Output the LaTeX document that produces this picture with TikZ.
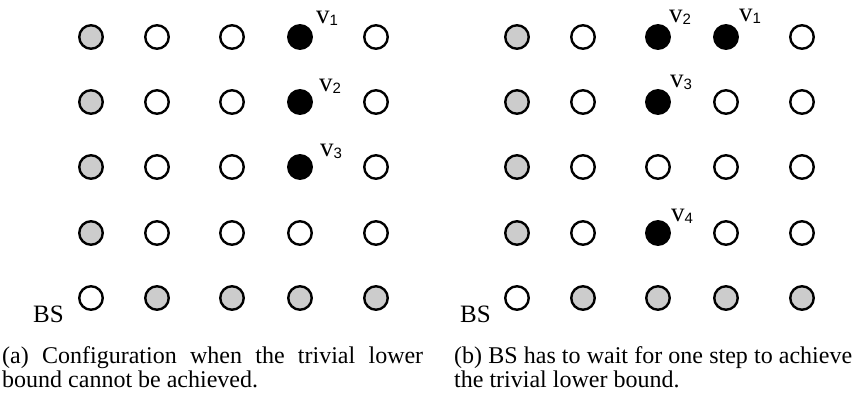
\documentclass[tikz,border=0pt]{standalone}
\usepackage{fontspec}
\setmainfont{Liberation Serif}
\newfontfamily\subfont{Liberation Sans}
\tikzset{
  site/.style={circle, draw=black, line width=2.4pt, minimum size=23.5pt, inner sep=0pt},
  wdot/.style={site, fill=white},
  gdot/.style={site, fill=black!20},
  bdot/.style={site, fill=black},
  vlab/.style={inner sep=0pt, anchor=base west, font=\fontsize{27}{27}\selectfont},
  bslab/.style={inner sep=0pt, anchor=base east, font=\fontsize{25}{25}\selectfont},
  caption/.style={inner sep=0pt, anchor=north west, align=justify, font=\fontsize{24}{24.5}\selectfont},
}
\newcommand\vsub[1]{\raisebox{-2pt}{\subfont\fontsize{15}{15}\selectfont #1}}

\begin{document}
\begin{tikzpicture}[x=1pt, y=-1pt]
  \useasboundingbox (0,0) rectangle (855,393);

  %% (a) grid
  \foreach \r/\y/\row in {1/37/{gdot,wdot,wdot,bdot,wdot},
                          2/102/{gdot,wdot,wdot,bdot,wdot},
                          3/167/{gdot,wdot,wdot,bdot,wdot},
                          4/233/{gdot,wdot,wdot,wdot,wdot},
                          5/298/{wdot,gdot,gdot,gdot,gdot}}
    \foreach \s [count=\c] in \row {
      \pgfmathsetmacro\xx{{91,157,232,300,376}[\c-1]}
      \node[\s] (a\r\c) at (\xx,\y) {};
    }

  %% (b) grid
  \begin{scope}[xshift=426pt]
  \foreach \r/\y/\row in {1/37/{gdot,wdot,bdot,bdot,wdot},
                          2/102/{gdot,wdot,bdot,wdot,wdot},
                          3/167/{gdot,wdot,wdot,wdot,wdot},
                          4/233/{gdot,wdot,bdot,wdot,wdot},
                          5/298/{wdot,gdot,gdot,gdot,gdot}}
    \foreach \s [count=\c] in \row {
      \pgfmathsetmacro\xx{{91,157,232,300,376}[\c-1]}
      \node[\s] (b\r\c) at (\xx,\y) {};
    }
  \end{scope}

  %% vehicle labels
  \node[vlab] (va1) at (316,24) {v\vsub{1}};
  \node[vlab] (va2) at (319,92) {v\vsub{2}};
  \node[vlab] (va3) at (320,157) {v\vsub{3}};

  \node[vlab] (vb2) at (669,23) {v\vsub{2}};
  \node[vlab] (vb1) at (739,22) {v\vsub{1}};
  \node[vlab] (vb3) at (670,88) {v\vsub{3}};
  \node[vlab] (vb4) at (671,222) {v\vsub{4}};

  %% base stations
  \node[bslab] (bsa) at (64,322) {BS};
  \node[bslab] (bsb) at (491,322) {BS};

  %% captions
  \node[caption, text width=421pt] (capa) at (2,346)
    {(a) Configuration when the trivial lower\linebreak bound cannot be achieved.};
  \node[caption, text width=398pt] (capb) at (454,346)
    {(b) BS has to wait for one step to achieve\linebreak the trivial lower bound.};
\end{tikzpicture}
\end{document}
